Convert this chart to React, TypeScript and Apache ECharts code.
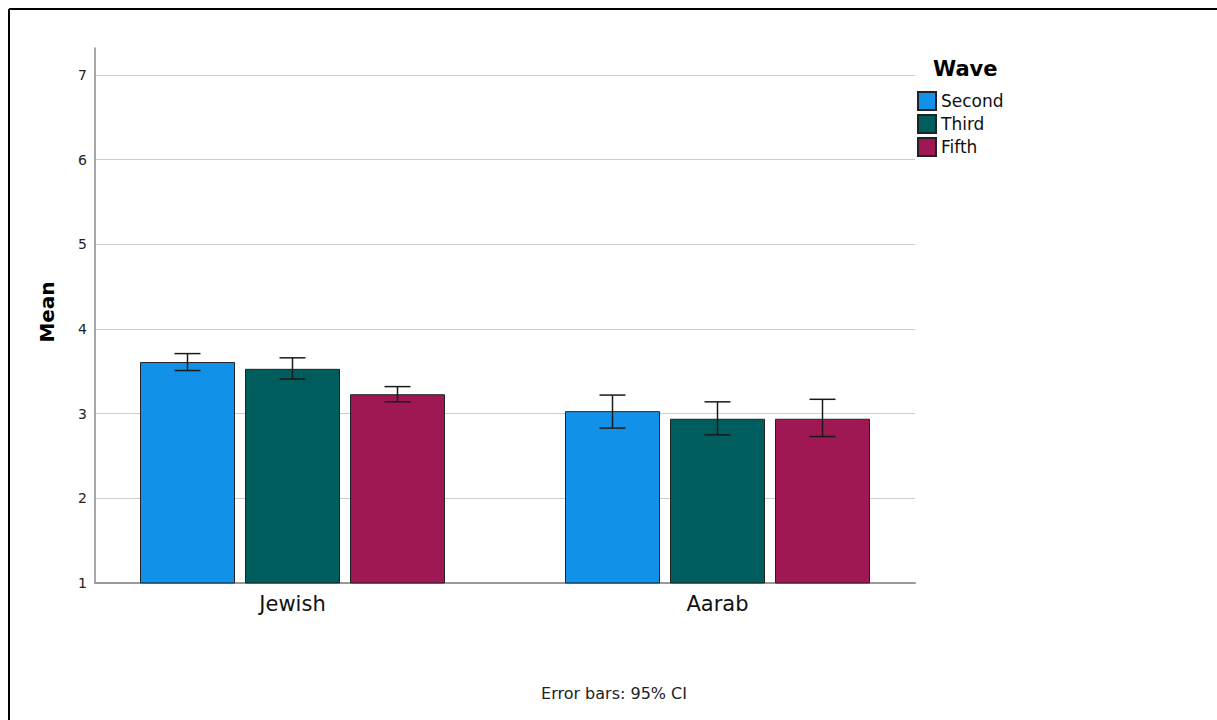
import React, { useEffect, useRef } from "react";
import * as echarts from "echarts";

const categories = ["Jewish", "Aarab"];
const waves = ["Second", "Third", "Fifth"];
const colors = ["#1192e8", "#005d5d", "#9f1853"];
const means = [
  [3.61, 3.03],
  [3.53, 2.94],
  [3.23, 2.94],
];
const ciLow = [
  [3.51, 2.83],
  [3.41, 2.75],
  [3.14, 2.73],
];
const ciHigh = [
  [3.71, 3.22],
  [3.66, 3.14],
  [3.32, 3.17],
];
const yTicks = [1, 2, 3, 4, 5, 6, 7];

const FONT = "'DejaVu Sans', sans-serif";
const BAR_W = 95;
const BAR_GAP = 10;
const Y_MIN = 1;
const Y_MAX = 7.32;

export default function App() {
  const ref = useRef<HTMLDivElement>(null);
  useEffect(() => {
    if (!ref.current) return;
    const chart = echarts.init(ref.current, undefined, { renderer: "svg" });
    const offsets = waves.map((_, i) => (i - 1) * (BAR_W + BAR_GAP));
    const barSeries = waves.map((w, i) => ({
      name: w,
      type: "bar",
      xAxisIndex: 1,
      yAxisIndex: 1,
      barWidth: BAR_W,
      barGap: (BAR_GAP / BAR_W) * 100 + "%",
      itemStyle: { color: colors[i], borderColor: "#222", borderWidth: 1 },
      data: means[i],
    }));
    const errSeries = waves.map((w, i) => ({
      name: w + " CI",
      type: "custom",
      xAxisIndex: 1,
      yAxisIndex: 1,
      z: 10,
      data: categories.map((_, c) => [c, ciLow[i][c], ciHigh[i][c]]),
      renderItem: (params: any, api: any) => {
        const lo = api.coord([api.value(0), api.value(1)]);
        const hi = api.coord([api.value(0), api.value(2)]);
        const x = lo[0] + offsets[i];
        const hw = 13;
        const style = { stroke: "#1a1a1a", lineWidth: 1.5 };
        return {
          type: "group",
          children: [
            { type: "line", shape: { x1: x, y1: lo[1], x2: x, y2: hi[1] }, style },
            { type: "line", shape: { x1: x - hw, y1: lo[1], x2: x + hw, y2: lo[1] }, style },
            { type: "line", shape: { x1: x - hw, y1: hi[1], x2: x + hw, y2: hi[1] }, style },
          ],
        };
      },
    }));
    chart.setOption({
      animation: false,
      backgroundColor: "#ffffff",
      grid: [
        { left: 95, width: 820, top: 48, bottom: 137 },
        { left: 80, width: 850, top: 48, bottom: 137 },
      ],
      xAxis: [
        {
          type: "value",
          gridIndex: 0,
          min: 0,
          max: 1,
          axisLine: { show: true, lineStyle: { color: "#9a9a9a", width: 2 } },
          axisTick: { show: false },
          axisLabel: { show: false },
          splitLine: { show: false },
        },
        {
          type: "category",
          gridIndex: 1,
          data: categories,
          axisLine: { show: false },
          axisTick: { show: false },
          axisLabel: { fontSize: 21, color: "#111", fontFamily: FONT, margin: 10 },
        },
      ],
      yAxis: [
        {
          type: "value",
          gridIndex: 0,
          min: Y_MIN,
          max: Y_MAX,
          interval: 1,
          axisLine: { show: true, lineStyle: { color: "#8a8a8a", width: 1.5 } },
          axisTick: { show: false },
          axisLabel: {
            fontSize: 14,
            color: "#222",
            fontFamily: FONT,
            margin: 8,
            showMaxLabel: false,
            formatter: (v: number) => (yTicks.includes(v) ? String(v) : ""),
          },
          splitLine: {
            show: true,
            showMinLine: false,
            showMaxLine: false,
            lineStyle: { color: "#cccccc", width: 1 },
          },
        },
        {
          type: "value",
          gridIndex: 1,
          min: Y_MIN,
          max: Y_MAX,
          show: false,
          splitLine: { show: false },
        },
      ],
      legend: {
        data: waves,
        orient: "vertical",
        left: 917,
        top: 91,
        padding: 0,
        itemWidth: 18,
        itemHeight: 18,
        itemGap: 3,
        icon: "rect",
        textStyle: { fontSize: 17, color: "#111", fontFamily: FONT },
      },
      graphic: [
        { type: "line", shape: { x1: 9, y1: 9, x2: 1217, y2: 9 }, style: { stroke: "#000", lineWidth: 2 } },
        { type: "line", shape: { x1: 9, y1: 9, x2: 9, y2: 720 }, style: { stroke: "#000", lineWidth: 2 } },
        {
          type: "text",
          x: 933,
          y: 69,
          style: { text: "Wave", fill: "#000", font: "bold 21px 'DejaVu Sans'", textVerticalAlign: "middle" },
        },
        {
          type: "text",
          x: 47,
          y: 312,
          rotation: Math.PI / 2,
          style: {
            text: "Mean",
            font: "bold 20px 'DejaVu Sans'",
            fill: "#000",
            textAlign: "center",
            textVerticalAlign: "middle",
          },
        },
        {
          type: "text",
          x: 614,
          y: 693,
          style: {
            text: "Error bars: 95% CI",
            font: "16px 'DejaVu Sans'",
            fill: "#222",
            textAlign: "center",
            textVerticalAlign: "middle",
          },
        },
      ],
      series: [...barSeries, ...errSeries],
    });
    return () => chart.dispose();
  }, []);
  return (
    <div
      ref={ref}
      style={{ position: "fixed", left: 0, top: 0, width: 1217, height: 720 }}
    />
  );
}
